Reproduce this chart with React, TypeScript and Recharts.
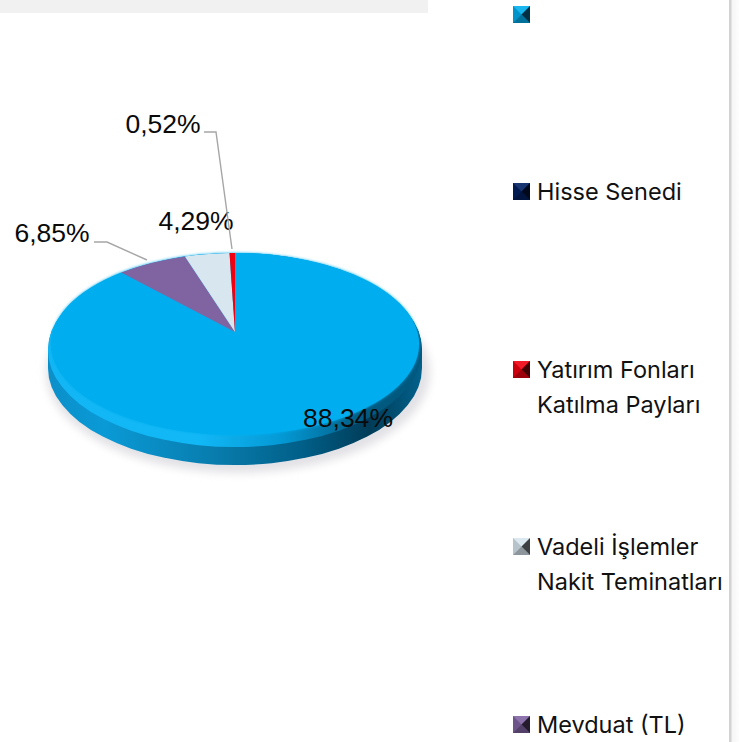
import React from 'react';
import { PieChart, Pie, Cell, Legend } from 'recharts';

const categories = ['', 'Hisse Senedi', 'Yatırım Fonları Katılma Payları', 'Vadeli İşlemler Nakit Teminatları', 'Mevduat (TL)'];
const values = [88.34, 0, 6.85, 4.29, 0.52];
const colors = ['#00aeef', '#002060', '#8064a2', '#d8e6ef', '#f00010'];
const legendLines = [[''], ['Hisse Senedi'], ['Yatırım Fonları', 'Katılma Payları'], ['Vadeli İşlemler', 'Nakit Teminatları'], ['Mevduat (TL)']];

const tableData = categories.map((name, i) => ({ name, value: values[i] }));

// the disc is tilted: the apex sits above the centre of the top ellipse
const APEX_DROP = 12;
const FLAT_RX_LOSS = 3;
const FLAT_RY = 91;
const RIM_RY = 97;
const RIM_DROP = 18;
const THICKNESS = 18;
const RAY_X = 170;
const RAY_Y = 80;
const RAD = Math.PI / 180;

// where a ray from the apex meets the flat top ellipse
const edgePoint = (cx: number, cy: number, rx: number, angle: number) => {
  const dx = RAY_X * Math.cos(angle * RAD);
  const dy = -RAY_Y * Math.sin(angle * RAD);
  const oy = -APEX_DROP;
  const a = (dx * dx) / (rx * rx) + (dy * dy) / (FLAT_RY * FLAT_RY);
  const b = (2 * oy * dy) / (FLAT_RY * FLAT_RY);
  const c = (oy * oy) / (FLAT_RY * FLAT_RY) - 1;
  const t = (-b + Math.sqrt(b * b - 4 * a * c)) / (2 * a);
  return { x: cx + t * dx, y: cy + t * dy };
};

const DiscBase = ({ cx, cy, r }: { cx: number; cy: number; r: number }) => {
  const rimY = cy + RIM_DROP;
  const body = `M${cx - r},${rimY} A${r},${RIM_RY} 0 0 1 ${cx + r},${rimY} L${cx + r},${rimY + THICKNESS} A${r},${RIM_RY} 0 0 1 ${cx - r},${rimY + THICKNESS} Z`;
  return (
    <g>
      <defs>
        <linearGradient id="side" x1="0" x2="1" y1="0" y2="0">
          <stop offset="0" stopColor="#0b8fc9" />
          <stop offset="0.15" stopColor="#0a9ad6" />
          <stop offset="0.45" stopColor="#087cad" />
          <stop offset="0.68" stopColor="#015f88" />
          <stop offset="0.86" stopColor="#003c58" />
          <stop offset="1" stopColor="#02618c" />
        </linearGradient>
        <linearGradient id="lip" x1="0" x2="1" y1="0" y2="0">
          <stop offset="0" stopColor="#12b6f4" />
          <stop offset="0.4" stopColor="#12b8f6" />
          <stop offset="0.62" stopColor="#049ad6" />
          <stop offset="0.85" stopColor="#015a80" />
          <stop offset="1" stopColor="#01587f" />
        </linearGradient>
        <filter id="soft" x="-5%" y="-5%" width="110%" height="110%">
          <feGaussianBlur stdDeviation="1.5" />
        </filter>
        <filter id="shadow" x="-10%" y="-10%" width="120%" height="120%">
          <feGaussianBlur stdDeviation="4" />
        </filter>
      </defs>
      <ellipse cx={cx + 3} cy={cy + 40} rx={r + 5} ry={RIM_RY + 4} fill="#e2e2e6" filter="url(#shadow)" />
      <path d={body} fill="url(#side)" />
      <ellipse cx={cx} cy={rimY} rx={r} ry={RIM_RY} fill="url(#lip)" />
    </g>
  );
};

const renderSlice = (props: any) => {
  const { cx, cy, outerRadius, startAngle, endAngle, fill, index, value } = props;
  if (!value) return <g />;
  const rx = outerRadius - FLAT_RX_LOSS;
  const from = edgePoint(cx, cy, rx, startAngle);
  const to = edgePoint(cx, cy, rx, endAngle);
  const large = Math.abs(startAngle - endAngle) > 180 ? 1 : 0;
  const d = `M${cx},${cy} L${from.x},${from.y} A${rx},${FLAT_RY} 0 ${large} 1 ${to.x},${to.y} Z`;
  return (
    <g>
      {index === 0 && <DiscBase cx={cx} cy={cy} r={outerRadius} />}
      {index === 0 && <ellipse cx={cx} cy={cy + APEX_DROP} rx={rx} ry={FLAT_RY} fill={fill} filter="url(#soft)" />}
      <path d={d} fill={fill} />
    </g>
  );
};

// text centre and leader line, relative to the pie centre
const labelLayout: Record<number, { x: number; y: number; leader?: number[][] }> = {
  0: { x: 113, y: 86 },
  2: { x: -183, y: -99, leader: [[-141, -90], [-128, -90], [-88, -72]] },
  3: { x: -39, y: -111 },
  4: { x: -72, y: -208, leader: [[-31, -200], [-19, -200], [-3, -83]] },
};

const renderLabel = (props: any) => {
  const { cx, cy, index, value } = props;
  const spot = labelLayout[index];
  if (!value || !spot) return <g />;
  return (
    <g>
      {spot.leader && (
        <polyline
          points={spot.leader.map(([x, y]) => `${cx + x},${cy + y}`).join(' ')}
          fill="none"
          stroke="#a6a6a6"
          strokeWidth={1.4}
        />
      )}
      <text
        x={cx + spot.x}
        y={cy + spot.y}
        textAnchor="middle"
        dominantBaseline="central"
        fontFamily="'Liberation Sans', sans-serif"
        fontSize={26.5}
        fill="#0a0a0a"
      >
        {value.toFixed(2).replace('.', ',')}%
      </text>
    </g>
  );
};

const LegendIcon = ({ color }: { color: string }) => (
  <svg width={17} height={17} style={{ position: 'absolute', left: 0, top: 9 }}>
    <rect width={17} height={17} fill={color} />
    <polygon points="0,0 17,0 8.5,8.5" fill="#ffffff" opacity={0.1} />
    <polygon points="0,0 0,17 8.5,8.5" fill="#000000" opacity={0.15} />
    <polygon points="17,0 17,17 8.5,8.5" fill="#000000" opacity={0.72} />
    <polygon points="0,17 17,17 8.5,8.5" fill="#000000" opacity={0.35} />
  </svg>
);

const renderLegend = (props: any) => (
  <div style={{ position: 'relative', width: 228 }}>
    {(props.payload || []).map((entry: any, i: number) => (
      <div key={i} style={{ position: 'relative', height: 177.5, paddingLeft: 24 }}>
        <LegendIcon color={entry.color} />
        {legendLines[i].map((line) => (
          <div key={line} style={{ height: 35, lineHeight: '35px', whiteSpace: 'nowrap' }}>
            {line}
          </div>
        ))}
      </div>
    ))}
  </div>
);

export default function App() {
  return (
    <div style={{ position: 'absolute', left: 0, top: 0, width: 739, height: 742, overflow: 'hidden', background: '#ffffff' }}>
      <div style={{ position: 'absolute', left: 0, top: 0, width: 428, height: 13, background: '#f1f1f1' }} />
      <div style={{ position: 'absolute', left: 729, top: 0, width: 10, height: 742, background: 'linear-gradient(90deg, #d2d2d2 0, #d2d2d2 2px, #f6f6f6 3px, #fdfdfd 100%)' }} />
      <div style={{ position: 'absolute', left: 0, top: 0 }}>
        <PieChart width={739} height={742} margin={{ top: 0, right: 0, bottom: 0, left: 0 }}>
          <Pie
            data={tableData}
            dataKey="value"
            nameKey="name"
            cx={235}
            cy={332}
            outerRadius={187}
            startAngle={90}
            endAngle={-270}
            stroke="none"
            shape={renderSlice}
            label={renderLabel}
            labelLine={false}
            isAnimationActive={false}
          >
            {categories.map((name, i) => (
              <Cell key={i} fill={colors[i]} />
            ))}
          </Pie>
          <Legend
            layout="vertical"
            content={renderLegend}
            wrapperStyle={{
              position: 'absolute',
              left: 513,
              top: -3.5,
              bottom: 'auto',
              width: 228,
              fontFamily: 'Inter, sans-serif',
              fontSize: 23.5,
              color: '#111111',
            }}
          />
        </PieChart>
      </div>
    </div>
  );
}
